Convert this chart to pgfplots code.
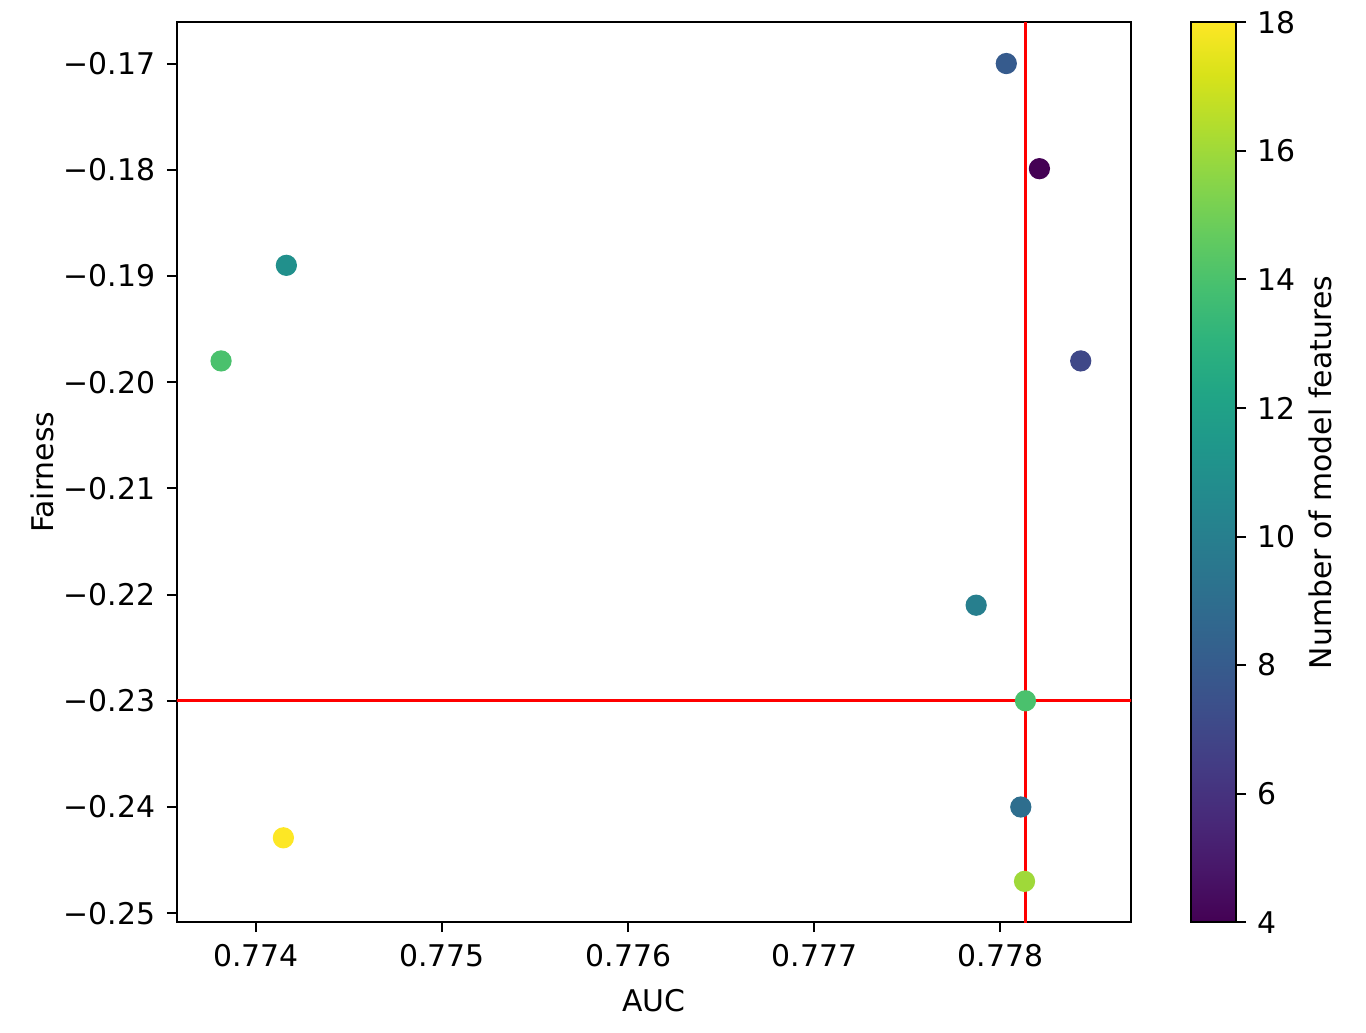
\documentclass[border=0pt]{standalone}
\usepackage{pgfplots}
\pgfplotsset{compat=1.18}
\usepackage{fontspec}
\setmainfont{DejaVu Sans}

\begin{document}
\begin{tikzpicture}
\begin{axis}[
    scale only axis,
    width=287.6pt,
    height=271.2pt,
    xmin=0.773573, xmax=0.778703,
    ymin=-0.25085, ymax=-0.16612,
    xtick={0.774,0.775,0.776,0.777,0.778},
    xticklabels={0.774,0.775,0.776,0.777,0.778},
    ytick={-0.25,-0.24,-0.23,-0.22,-0.21,-0.20,-0.19,-0.18,-0.17},
    yticklabels={−0.25,−0.24,−0.23,−0.22,−0.21,−0.20,−0.19,−0.18,−0.17},
    xtick pos=bottom, ytick pos=left,
    tick align=outside,
    major tick length=3pt,
    every tick/.style={black, line width=0.6pt},
    axis line style={line width=0.6pt},
    tick label style={font=\fontsize{9}{11}\selectfont},
    label style={font=\fontsize{9}{11}\selectfont},
    xlabel={AUC},
    ylabel={Fairness},
    xlabel shift=0pt,
    ylabel shift=-4pt,
    colormap name=viridis,
    point meta min=4, point meta max=18,
    colorbar,
    colorbar style={
        at={(parent axis.north east)}, anchor=north west,
        xshift=9.5pt,
        width=13.6pt,
        ytick={4,6,...,18},
        yticklabels={4,6,8,10,12,14,16,18},
        yticklabel pos=right,
        ytick pos=right,
        tick align=outside,
        major tick length=3pt,
        axis line style={line width=0.6pt},
        tick label style={font=\fontsize{9}{11}\selectfont},
        ylabel={Number of model features},
        ylabel style={font=\fontsize{9}{11}\selectfont},
        ylabel shift=-3pt,
    },
]
\addplot[
    scatter, only marks,
    mark=*, mark size=3pt,
    scatter/use mapped color={draw=mapped color, fill=mapped color},
    point meta=explicit,
] table[meta=f] {
x y f
0.778032 -0.1700 8
0.778210 -0.1799 4
0.774162 -0.1890 11
0.773811 -0.1980 14
0.778432 -0.1980 7
0.777870 -0.2210 10
0.778135 -0.2300 14
0.778110 -0.2400 9
0.774146 -0.2429 18
0.778130 -0.2470 16
};
\addplot[red, line width=0.9pt] coordinates {(0.778135,-0.26) (0.778135,-0.16)};
\addplot[red, line width=0.9pt] coordinates {(0.7735,-0.23) (0.7788,-0.23)};
\end{axis}
\path (current bounding box.west) ++(-6pt,0);
\path (current bounding box.east) ++(7pt,0);
\path (current bounding box.south) ++(0,-3pt);
\end{tikzpicture}
\end{document}
